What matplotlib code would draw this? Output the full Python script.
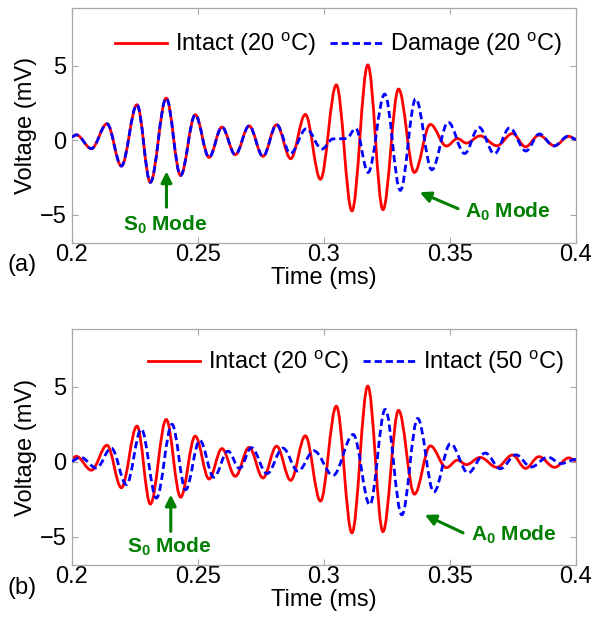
import matplotlib
matplotlib.use("Agg")
import matplotlib.pyplot as plt
from matplotlib.path import Path
from matplotlib.patches import PathPatch
from matplotlib.lines import Line2D

plt.rcParams['font.family'] = ['Liberation Sans', 'DejaVu Sans']
plt.rcParams['mathtext.fontset'] = 'custom'
plt.rcParams['mathtext.rm'] = 'Liberation Sans'
plt.rcParams['mathtext.it'] = 'Liberation Sans:italic'
plt.rcParams['mathtext.bf'] = 'Liberation Sans:bold'

# ---- data: extrema of each signal (time in ms, voltage in mV) ----
intact20_t = [0.2000, 0.2017, 0.2077, 0.2139, 0.2196, 0.2258, 0.2311, 0.2374, 0.2431,
              0.2489, 0.2544, 0.2595, 0.2648, 0.2703, 0.2758, 0.2812, 0.2868, 0.2926,
              0.2986, 0.3049, 0.3111, 0.3174, 0.3234, 0.3296, 0.3359, 0.3422, 0.3486,
              0.3530, 0.3565, 0.3620, 0.3686, 0.3748, 0.3800, 0.3853, 0.3915, 0.3972, 0.4000]
intact20_v = [0.22, 0.35, -0.57, 1.09, -1.74, 2.37, -2.83, 2.81, -2.37,
              1.70, -1.16, 0.87, -0.98, 0.95, -1.09, 1.03, -1.25, 1.72,
              -2.63, 3.70, -4.75, 5.04, -4.67, 3.42, -2.17, 1.05, -0.40,
              0.10, -0.20, 0.28, -0.38, 0.44, -0.45, 0.33, -0.38, 0.25, 0.05]

damage20_t = [0.2000, 0.2017, 0.2077, 0.2139, 0.2196, 0.2258, 0.2311, 0.2374, 0.2431,
              0.2489, 0.2544, 0.2595, 0.2648, 0.2703, 0.2758, 0.2812, 0.2867, 0.2930,
              0.2992, 0.3036, 0.3089, 0.3126, 0.3175, 0.3241, 0.3303, 0.3364, 0.3428,
              0.3493, 0.3558, 0.3615, 0.3676, 0.3737, 0.3801, 0.3855, 0.3912, 0.3970, 0.4000]
damage20_v = [0.22, 0.35, -0.57, 1.09, -1.74, 2.37, -2.83, 2.81, -2.37,
              1.70, -1.16, 0.87, -0.98, 0.95, -1.09, 1.03, -0.90, 0.76,
              -0.60, 0.08, 0.10, 0.78, -2.17, 3.08, -3.37, 2.77, -1.99,
              1.20, -0.90, 0.86, -0.92, 0.82, -0.73, 0.41, -0.40, 0.27, 0.05]

intact50_t = [0.2000, 0.2033, 0.2097, 0.2156, 0.2216, 0.2275, 0.2335, 0.2397, 0.2451,
              0.2507, 0.2563, 0.2619, 0.2665, 0.2712, 0.2774, 0.2837, 0.2897, 0.2960,
              0.3036, 0.3116, 0.3182, 0.3243, 0.3309, 0.3372, 0.3436, 0.3502, 0.3572,
              0.3640, 0.3700, 0.3762, 0.3822, 0.3889, 0.3940, 0.4000]
intact50_v = [0.05, 0.30, -0.43, 0.90, -1.53, 2.16, -2.43, 2.49, -1.87,
              1.42, -1.04, 0.70, -0.45, 0.93, -0.80, 0.90, -0.64, 0.72,
              -0.92, 1.81, -2.88, 3.48, -3.55, 2.88, -2.03, 1.20, -0.75,
              0.57, -0.47, 0.45, -0.36, 0.30, -0.13, 0.15]

x_ticks = [0.2, 0.25, 0.3, 0.35, 0.4]
x_ticklabels = ['0.2', '0.25', '0.3', '0.35', '0.4']
y_ticks = [-5, 0, 5]

RED = '#ff0000'
BLUE = '#0000ff'
GREEN = '#007f00'
SPINE = '#a8a8a8'
FS = 17


def wave_path(t, v, k=0.36):
    verts = [(t[0], v[0])]
    codes = [Path.MOVETO]
    for i in range(len(t) - 1):
        dt = t[i + 1] - t[i]
        verts += [(t[i] + k * dt, v[i]), (t[i + 1] - k * dt, v[i + 1]), (t[i + 1], v[i + 1])]
        codes += [Path.CURVE4] * 3
    return Path(verts, codes)


fig = plt.figure(figsize=(5.95, 6.23), dpi=100)
ax_a = fig.add_axes([0.121, 0.610, 0.847, 0.377])
ax_b = fig.add_axes([0.121, 0.093, 0.847, 0.379])

dash = (0, (2.6, 1.4))
LW = 2.0

panels = [
    (ax_a, damage20_t, damage20_v, 'Damage (20 $^{\\mathrm{o}}$C)', (0.529, 0.845),
     ((0.2375, -2.1), (0.2375, -4.5), (0.2372, -5.7)),
     ((0.3380, -3.5), (0.3532, -4.6), (0.3561, -4.8)), '(a)', 0.575),
    (ax_b, intact50_t, intact50_v, 'Intact (50 $^{\\mathrm{o}}$C)', (0.563, 0.858),
     ((0.2392, -2.2), (0.2392, -4.65), (0.2387, -5.7)),
     ((0.3400, -3.55), (0.3552, -4.75), (0.3585, -4.9)), '(b)', 0.056),
]

for ax, bt, bv, blabel, legpos, s0, a0, tag, tagy in panels:
    ax.add_patch(PathPatch(wave_path(intact20_t, intact20_v), fill=False,
                           edgecolor=RED, lw=LW, zorder=2, capstyle='butt'))
    ax.add_patch(PathPatch(wave_path(bt, bv), fill=False, edgecolor=BLUE,
                           lw=LW, linestyle=dash, zorder=3))
    ax.set_xlim(0.2, 0.4)
    ax.set_ylim(-6.9, 8.85)
    ax.set_xticks(x_ticks)
    ax.set_xticklabels(x_ticklabels)
    ax.set_yticks(y_ticks)
    ax.tick_params(direction='in', top=True, right=True, length=4, width=0.8,
                   color=SPINE, labelsize=FS)
    ax.tick_params(axis='x', pad=1)
    ax.tick_params(axis='y', pad=4)
    for sp in ax.spines.values():
        sp.set_color(SPINE)
        sp.set_linewidth(0.9)
    ax.set_xlabel('Time (ms)', fontsize=FS, labelpad=0.5)
    ax.set_ylabel('Voltage (mV)', fontsize=FS, labelpad=2)

    handles = [Line2D([], [], color=RED, lw=LW),
               Line2D([], [], color=BLUE, lw=LW, linestyle=dash)]
    ax.legend(handles, ['Intact (20 $^{\\mathrm{o}}$C)', blabel], loc='center',
              bbox_to_anchor=legpos, ncol=2, frameon=False, fontsize=FS,
              handlelength=2.2, handletextpad=0.35, columnspacing=0.6,
              borderaxespad=0, borderpad=0)

    # S0 arrow and text
    ax.annotate('', xy=s0[0], xytext=s0[1],
                arrowprops=dict(arrowstyle='-|>', color=GREEN, lw=2.2,
                                mutation_scale=16, shrinkA=0, shrinkB=0))
    ax.text(s0[2][0], s0[2][1], 'S$_\\mathbf{0}$ Mode', color=GREEN, fontsize=15,
            fontweight='bold', ha='center', va='center')
    # A0 arrow and text
    ax.annotate('', xy=a0[0], xytext=a0[1],
                arrowprops=dict(arrowstyle='-|>', color=GREEN, lw=2.2,
                                mutation_scale=16, shrinkA=0, shrinkB=0))
    ax.text(a0[2][0], a0[2][1], 'A$_\\mathbf{0}$ Mode', color=GREEN, fontsize=15,
            fontweight='bold', ha='left', va='center')

    fig.text(0.013, tagy, tag, fontsize=FS, ha='left', va='center')

fig.savefig('out.png', dpi=100)
